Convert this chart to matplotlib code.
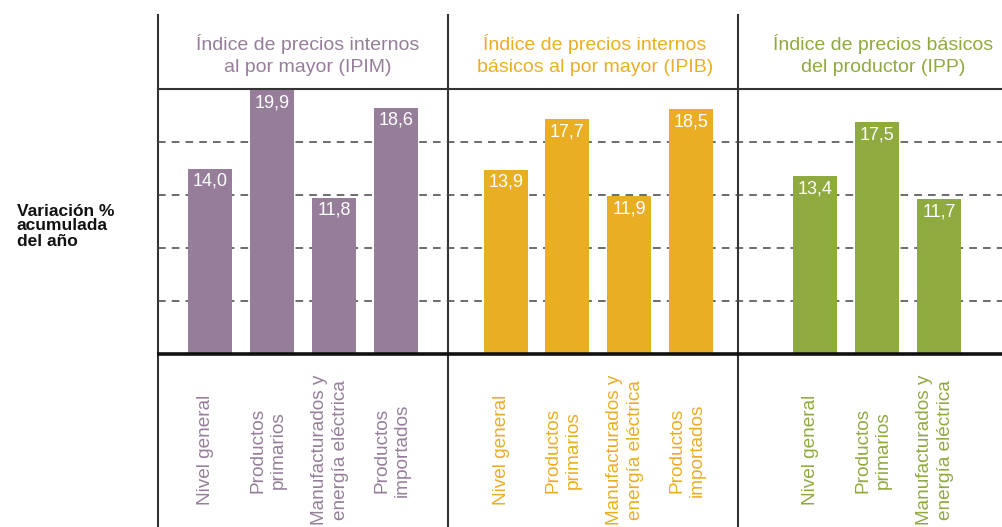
import matplotlib
matplotlib.use("Agg")
import matplotlib.pyplot as plt

plt.rcParams['font.family'] = ['Liberation Sans', 'DejaVu Sans']

# ---- data ----
panel_titles = [
    "Índice de precios internos\nal por mayor (IPIM)",
    "Índice de precios internos\nbásicos al por mayor (IPIB)",
    "Índice de precios básicos\ndel productor (IPP)",
]
ipim_categories = ["Nivel general", "Productos\nprimarios",
                   "Manufacturados y\nenergía eléctrica", "Productos\nimportados"]
ipib_categories = ["Nivel general", "Productos\nprimarios",
                   "Manufacturados y\nenergía eléctrica", "Productos\nimportados"]
ipp_categories = ["Nivel general", "Productos\nprimarios",
                  "Manufacturados y\nenergía eléctrica"]
ipim_values = [14.0, 19.9, 11.8, 18.6]
ipib_values = [13.9, 17.7, 11.9, 18.5]
ipp_values = [13.4, 17.5, 11.7]
y_label = "Variación %\nacumulada\ndel año"

# ---- layout / style ----
W, H = 1003, 527
colors = ["#967E9B", "#EAAE24", "#8FAA3E"]
bar_centers = [[210, 272, 334, 396], [506, 567, 629, 691], [815, 877, 939]]
title_x = [308, 595, 883]
sep_x = [158, 448, 738]
bar_w = 44
y_top_px, y_base_px = 89, 354

fig = plt.figure(figsize=(W / 100, H / 100), dpi=100)

ax = fig.add_axes([158 / W, (H - y_base_px) / H, (W - 158) / W,
                   (y_base_px - y_top_px) / H])
ax.set_xlim(158, W)
ax.set_ylim(0, 20)
ax.axis('off')

for g in [4, 8, 12, 16]:
    ax.axhline(g, color="#444444", lw=1.1, ls=(0, (5, 4)), zorder=0)
ax.axhline(20, color="#333333", lw=1.5, zorder=0, clip_on=False)
ax.plot([157, W], [0, 0], color="#111111", lw=2.6, zorder=3, clip_on=False,
        solid_capstyle='butt')

values_all = [ipim_values, ipib_values, ipp_values]
cats_all = [ipim_categories, ipib_categories, ipp_categories]

for xs, vals, col in zip(bar_centers, values_all, colors):
    ax.bar(xs, vals, width=bar_w, color=col, zorder=2)
    for x, v in zip(xs, vals):
        ax.annotate(f"{v:.1f}".replace('.', ','), (x, v), xytext=(0, -3),
                    textcoords='offset points', ha='center', va='top',
                    color='white', fontsize=13, zorder=4)

# overlay for decorations in pixel coords
ov = fig.add_axes([0, 0, 1, 1], zorder=-1)
ov.set_xlim(0, W)
ov.set_ylim(H, 0)
ov.axis('off')
for sx in sep_x:
    ov.plot([sx, sx], [15, H], color="#333333", lw=1.5)

for tx, t, col in zip(title_x, panel_titles, colors):
    ov.text(tx, 55, t, ha='center', va='center', color=col, fontsize=14,
            linespacing=1.45)

for xs, cats, col in zip(bar_centers, cats_all, colors):
    for x, c in zip(xs, cats):
        ov.text(x - 4, 450, c, rotation=90, ha='center', va='center',
                color=col, fontsize=13.7, linespacing=1.3,
                multialignment='center')

ov.text(17, 226, y_label, ha='left', va='center', fontsize=12.5,
        fontweight='bold', color='#111111', linespacing=1.0)

fig.savefig("out.png", dpi=100)
